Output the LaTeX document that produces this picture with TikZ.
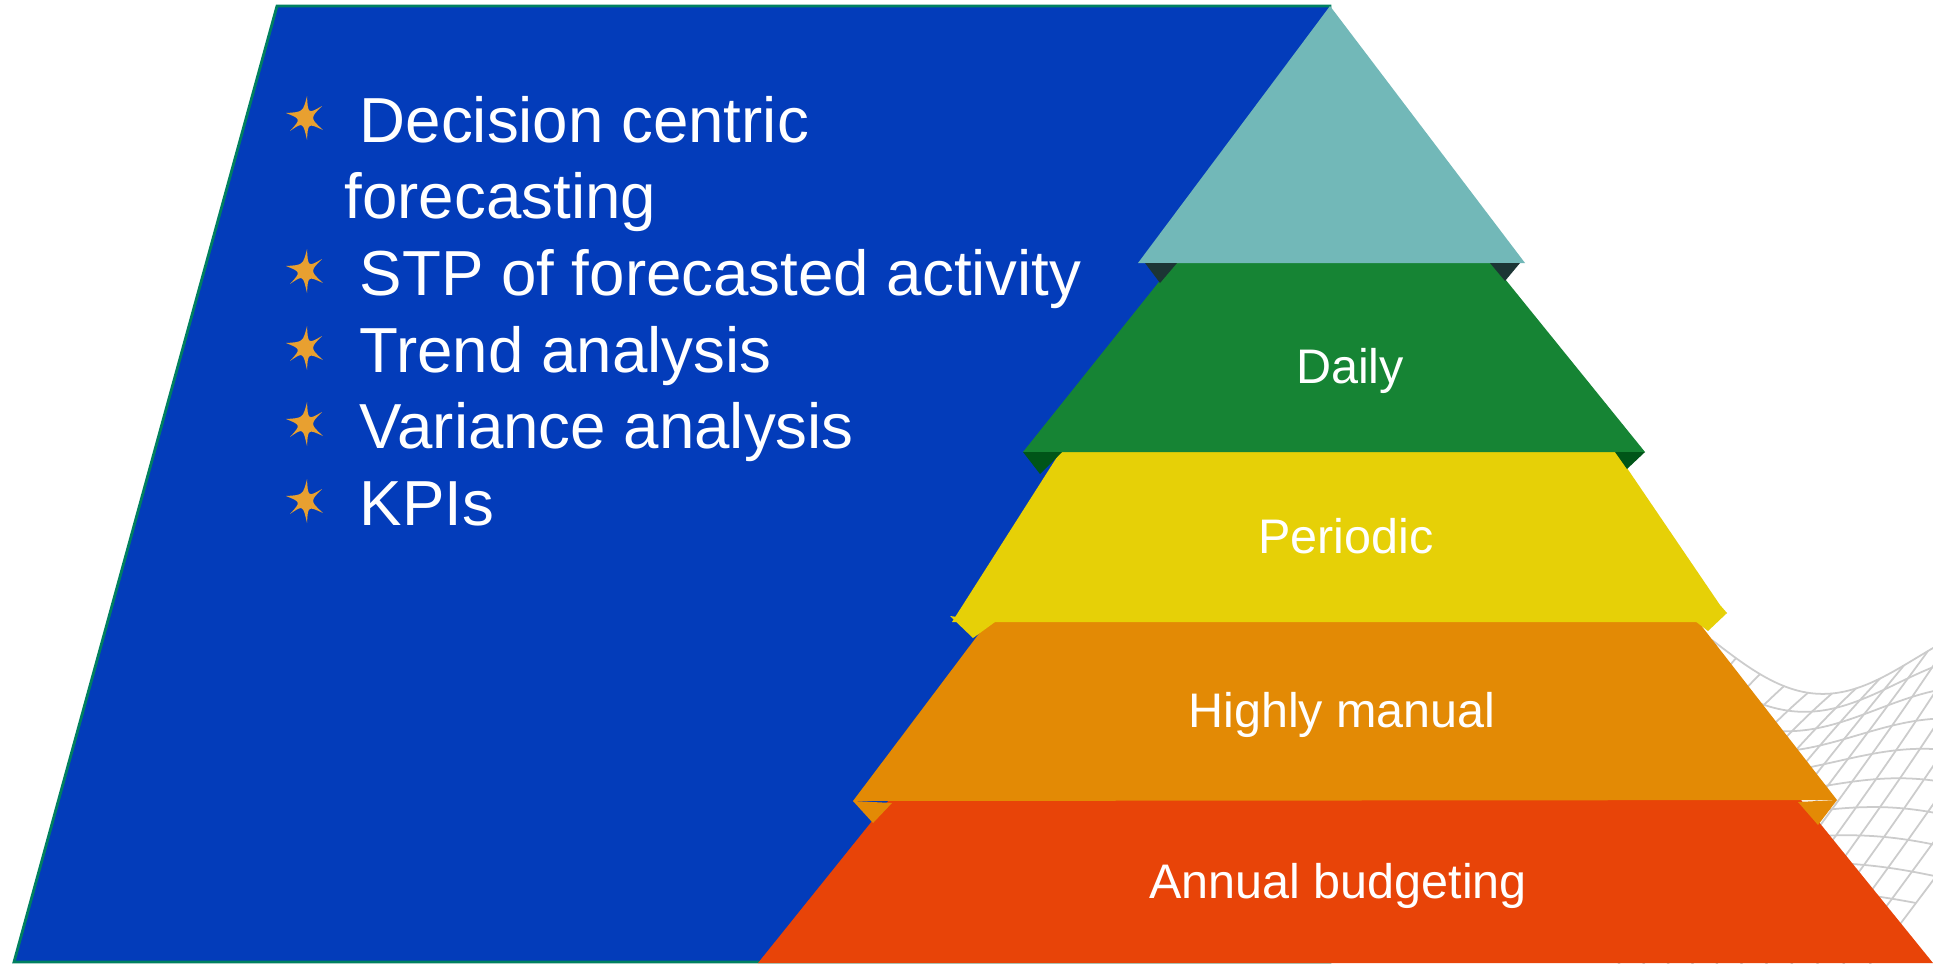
\documentclass[tikz,border=0pt]{standalone}
\usepackage{fontspec}
\setmainfont{Liberation Sans}
\usetikzlibrary{positioning}
\definecolor{panelblue}{RGB}{3,60,186}
\definecolor{panelrim}{RGB}{0,128,96}
\definecolor{topteal}{RGB}{114,184,184}
\definecolor{tealtab}{RGB}{28,53,53}
\definecolor{dailygreen}{RGB}{22,132,52}
\definecolor{greentab}{RGB}{0,85,24}
\definecolor{periodyellow}{RGB}{230,208,7}
\definecolor{manualorange}{RGB}{227,138,5}
\definecolor{annualred}{RGB}{232,68,8}
\definecolor{starorange}{RGB}{232,160,48}

\tikzset{starmark/.pic={
    \fill[starorange] (17,-12) .. controls (3,-4) .. (2,-22) .. controls (-2,-6) .. (-19,-5)
        .. controls (-4,1) .. (-15,13) .. controls (-2,4) .. (2,22)
        .. controls (3,5) .. (18,12) .. controls (5,0) .. (17,-12) -- cycle;}}

\begin{document}
\begin{tikzpicture}[x=0.01cm, y=-0.01cm,
    level/.style={text=white, font=\fontsize{13.8}{16}\selectfont, anchor=base, inner sep=0pt},
    item/.style={text=white, font=\fontsize{18.1}{22}\selectfont, anchor=base west, inner sep=0pt},
    meshline/.style={gray!40, line width=0.5pt}]
    \useasboundingbox (0,0) rectangle (1933,963);
    \fill[white] (0,0) rectangle (1933,963);

    % wire mesh behind the pyramid
    \begin{scope}
        \clip (1600,630) rectangle (1933,963);
        \foreach \v in {0,...,14}
            \draw[meshline] plot[domain=0:16, samples=60, smooth]
                ({1712+24*\x-20*\v}, {640+2*\x+26*\v+45*sin(\x*21)*exp(-\v/5)});
        \foreach \u in {0,...,16}
            \draw[meshline] plot[domain=0:14, samples=50, smooth]
                ({1712+24*\u-20*\x}, {640+2*\u+26*\x+45*sin(\u*21)*exp(-\x/5)});
    \end{scope}

    % blue panel
    \filldraw[fill=panelblue, draw=panelrim, line width=0.8pt]
        (277,6) -- (1330,6) -- (1330,962) -- (14,962) -- cycle;

    % pyramid, bottom up (each top tucked under the layer above)
    \fill[annualred] (893,795) -- (1797,795) -- (1933,963) -- (758,963) -- cycle;

    \fill[manualorange] (993,615) -- (1693,615) -- (1837,800) -- (853,801) -- cycle;
    \fill[manualorange] (853,801) -- (892,803) -- (873,823) -- cycle;
    \fill[manualorange] (1798,802) -- (1837,800) -- (1818,825) -- cycle;

    \fill[periodyellow] (1064,446) -- (1612,446) -- (1720,605) -- (1727,613) -- (1705,622) -- (952,622) -- cycle;
    \fill[periodyellow] (950,616) -- (995,622) -- (973,638) -- cycle;
    \fill[periodyellow] (1695,621) -- (1727,613) -- (1708,631) -- cycle;

    \fill[dailygreen] (1178,258) -- (1488,258) -- (1645,452) -- (1023,452) -- cycle;
    \fill[greentab] (1023,452) -- (1062,452) -- (1040,474) -- cycle;
    \fill[greentab] (1615,452) -- (1645,452) -- (1627,469) -- cycle;

    \fill[topteal] (1330,6) -- (1525,263) -- (1138,263) -- cycle;
    \fill[tealtab] (1145,263) -- (1177,263) -- (1160,283) -- cycle;
    \fill[tealtab] (1490,263) -- (1520,263) -- (1505,281) -- cycle;

    % level names
    \node[level] (l_daily) at (1350,383) {Daily};
    \node[level] (l_periodic) at (1346,553) {Periodic};
    \node[level] (l_manual) at (1342,727) {Highly manual};
    \node[level] (l_annual) at (1338,898) {Annual budgeting};

    % bullet list
    \pic at (305,118) {starmark};
    \pic at (305,271) {starmark};
    \pic at (305,348) {starmark};
    \pic at (305,424) {starmark};
    \pic at (305,501) {starmark};
    \node[item] (b_1) at (359,142) {Decision centric};
    \node[item] (b_1a) at (344,218) {forecasting};
    \node[item] (b_2) at (359,295) {STP of forecasted activity};
    \node[item] (b_3) at (359,372) {Trend analysis};
    \node[item] (b_4) at (359,448) {Variance analysis};
    \node[item] (b_5) at (359,525) {KPIs};
\end{tikzpicture}
\end{document}
